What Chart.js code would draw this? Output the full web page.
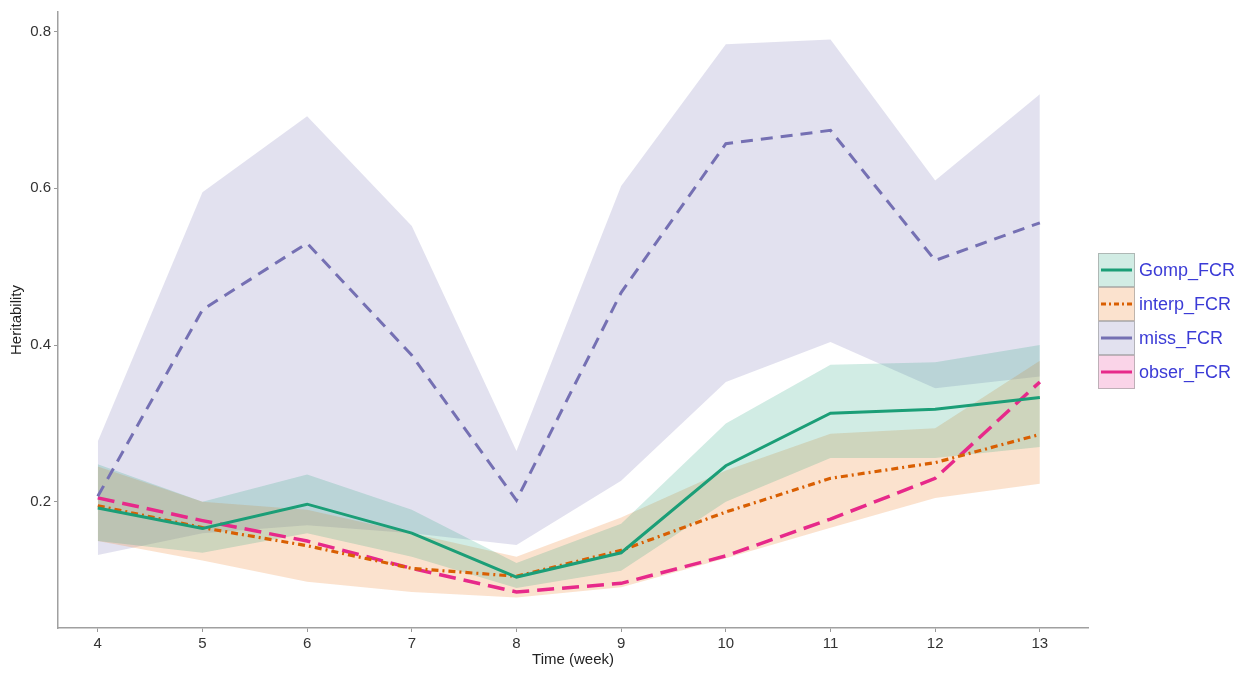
<!DOCTYPE html>
<html>
<head>
<meta charset="utf-8">
<script src="https://cdn.jsdelivr.net/npm/chart.js@4.4.0/dist/chart.umd.min.js"></script>
<style>
  html, body { margin: 0; padding: 0; background: #fff; }
  #wrap { width: 1251px; height: 673px; position: relative; }
</style>
</head>
<body>
<div id="wrap"><canvas id="hChart" width="1251" height="673"></canvas></div>
<script>
  // ---- DATA ----
  const weeks = [4, 5, 6, 7, 8, 9, 10, 11, 12, 13];
  const yTicks = [0.2, 0.4, 0.6, 0.8];

  const gompFCR = [0.192, 0.166, 0.197, 0.160, 0.104, 0.135, 0.246, 0.313, 0.318, 0.333];
  const gompLo  = [0.150, 0.135, 0.160, 0.130, 0.090, 0.112, 0.200, 0.256, 0.256, 0.270];
  const gompHi  = [0.248, 0.200, 0.235, 0.190, 0.122, 0.172, 0.300, 0.375, 0.378, 0.400];

  const interpFCR = [0.195, 0.167, 0.144, 0.115, 0.105, 0.138, 0.187, 0.230, 0.250, 0.286];
  const interpLo  = [0.150, 0.125, 0.098, 0.085, 0.078, 0.091, 0.128, 0.167, 0.205, 0.223];
  const interpHi  = [0.245, 0.200, 0.190, 0.160, 0.130, 0.180, 0.240, 0.287, 0.294, 0.380];

  const missFCR = [0.207, 0.445, 0.530, 0.387, 0.202, 0.467, 0.657, 0.674, 0.508, 0.556];
  const missLo  = [0.132, 0.160, 0.170, 0.160, 0.145, 0.227, 0.353, 0.404, 0.345, 0.360];
  const missHi  = [0.277, 0.595, 0.692, 0.552, 0.265, 0.603, 0.784, 0.790, 0.610, 0.720];

  const obserFCR = [0.205, 0.176, 0.150, 0.115, 0.085, 0.096, 0.131, 0.178, 0.230, 0.353];

  const seriesNames = ['Gomp_FCR', 'interp_FCR', 'miss_FCR', 'obser_FCR'];

  // ---- helpers ----
  const pts = arr => arr.map((v, i) => ({ x: weeks[i], y: v }));

  function band(hi, lo, fillColor) {
    return [
      { data: pts(hi), fill: '+1', backgroundColor: fillColor, borderWidth: 0, pointRadius: 0, order: 5 },
      { data: pts(lo), fill: false, borderWidth: 0, pointRadius: 0, order: 5 }
    ];
  }
  function line(vals, color, dash, width) {
    return { data: pts(vals), fill: false, borderColor: color, borderWidth: width, borderDash: dash,
             pointRadius: 0, order: 0, borderCapStyle: 'butt' };
  }

  const COL = {
    gomp: '#1b9e77', interp: '#d95f02', miss: '#7570b3', obser: '#e7298a'
  };
  const FILL = {
    gomp: 'rgba(27,158,119,0.2)', interp: 'rgba(240,140,60,0.25)',
    miss: 'rgba(117,112,179,0.21)', obser: 'rgba(231,41,138,0.2)'
  };
  const DASH = { gomp: [], interp: [7, 4, 2, 4], miss: [12, 8], obser: [17, 8] };

  // ---- legend drawn on canvas ----
  const sideLegend = {
    id: 'sideLegend',
    afterDraw(chart) {
      const c = chart.ctx;
      const keys = ['gomp', 'interp', 'miss', 'obser'];
      const x0 = 1098, w = 37, h = 34, y0 = 253;
      c.save();
      keys.forEach((k, i) => {
        const y = y0 + i * h;
        c.fillStyle = '#fff';
        c.fillRect(x0, y, w, h);
        c.fillStyle = FILL[k];
        c.fillRect(x0, y, w, h);
        c.strokeStyle = 'rgba(150,150,150,0.6)';
        c.lineWidth = 1;
        c.strokeRect(x0 + 0.5, y + 0.5, w - 1, h - 1);
        c.beginPath();
        c.setLineDash(k === 'interp' ? [5, 3, 2, 3] : []);
        c.strokeStyle = COL[k];
        c.lineWidth = 3;
        c.moveTo(x0 + 3, y + h / 2);
        c.lineTo(x0 + w - 3, y + h / 2);
        c.stroke();
        c.setLineDash([]);
        c.fillStyle = '#3b3bd6';
        c.font = '18px "Liberation Sans", Arial, sans-serif';
        c.textBaseline = 'middle';
        c.fillText(seriesNames[i], x0 + w + 4, y + h / 2 + 1);
      });
      c.restore();
    }
  };

  const ctx = document.getElementById('hChart').getContext('2d');
  new Chart(ctx, {
    type: 'line',
    data: {
      datasets: [
        ...band(gompHi, gompLo, FILL.gomp),
        ...band(interpHi, interpLo, FILL.interp),
        ...band(missHi, missLo, FILL.miss),
        line(gompFCR, COL.gomp, DASH.gomp, 3),
        line(interpFCR, COL.interp, DASH.interp, 3.2),
        line(missFCR, COL.miss, DASH.miss, 3),
        line(obserFCR, COL.obser, DASH.obser, 3.5)
      ]
    },
    options: {
      responsive: false,
      animation: false,
      layout: { padding: { top: 8, right: 163, bottom: 0, left: 0 } },
      plugins: { legend: { display: false }, tooltip: { enabled: false } },
      elements: { line: { tension: 0 } },
      scales: {
        x: {
          type: 'linear', min: 3.62, max: 13.46,
          afterBuildTicks: s => { s.ticks = weeks.map(v => ({ value: v })); },
          afterFit: s => { s.height = 45; },
          grid: { drawOnChartArea: false, tickLength: 4, color: '#999' },
          border: { display: true, color: '#a0a0a0', width: 1.5 },
          ticks: { color: '#333', font: { size: 15, family: '"Liberation Sans", Arial, sans-serif' }, padding: 3 },
          title: { display: true, text: 'Time (week)', color: '#222', padding: { top: 0 },
                   font: { size: 15, family: '"Liberation Sans", Arial, sans-serif' } }
        },
        y: {
          type: 'linear', min: 0.039, max: 0.825,
          afterBuildTicks: s => { s.ticks = yTicks.map(v => ({ value: v })); },
          afterFit: s => { s.width = 58; },
          grid: { drawOnChartArea: false, tickLength: 4, color: '#999' },
          border: { display: true, color: '#a0a0a0', width: 1.5 },
          ticks: { color: '#333', font: { size: 15, family: '"Liberation Sans", Arial, sans-serif' }, padding: 3,
                   callback: v => v.toFixed(1) },
          title: { display: true, text: 'Heritability', color: '#222', padding: { top: 8, bottom: 0 },
                   font: { size: 15, family: '"Liberation Sans", Arial, sans-serif' } }
        }
      }
    },
    plugins: [sideLegend]
  });
</script>
</body>
</html>
